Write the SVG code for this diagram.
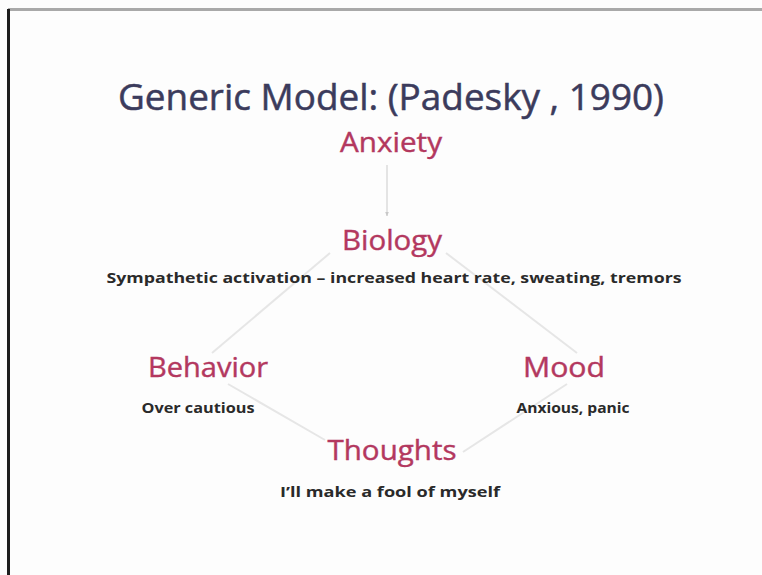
<svg xmlns="http://www.w3.org/2000/svg" width="762" height="575" viewBox="0 0 762 575">
  <style>
    .title { font-family: "Open Sans", "Liberation Sans", sans-serif; font-size: 36px; fill: #3b3b5c; stroke: #3b3b5c; stroke-width: 0.5; text-anchor: middle; }
    .head { font-family: "Open Sans", "Liberation Sans", sans-serif; font-size: 27px; fill: #b3385f; stroke: #b3385f; stroke-width: 0.4; text-anchor: middle; }
    .note { font-family: "Open Sans", "Liberation Sans", sans-serif; font-size: 14px; font-weight: bold; fill: #2a2a2a; text-anchor: middle; }
    .link { stroke: #e6e6e6; stroke-width: 2; fill: none; }
  </style>
  <defs>
    <marker id="tip" viewBox="0 0 10 10" refX="9" refY="5" markerWidth="4" markerHeight="4" orient="auto">
      <path d="M0,1 L10,5 L0,9 z" fill="#c8c8c8"/>
    </marker>
  </defs>

  <!-- page -->
  <rect x="0" y="0" width="762" height="575" fill="#fdfdfd"/>
  <rect x="8" y="8" width="754" height="3" fill="#a9a9a9"/>
  <rect x="7" y="9" width="3" height="566" fill="#1e1e1e"/>

  <!-- connectors -->
  <g id="connectors">
    <line x1="387" y1="165" x2="387" y2="216" stroke="#d4d4d4" stroke-width="1.2" marker-end="url(#tip)"/>
    <line class="link" x1="330" y1="253" x2="212" y2="353"/>
    <line class="link" x1="446" y1="253" x2="577" y2="353"/>
    <line class="link" x1="228" y1="384" x2="325" y2="440"/>
    <line class="link" x1="567" y1="384" x2="463" y2="452"/>
  </g>

  <text class="title" x="391" y="110" textLength="546" lengthAdjust="spacingAndGlyphs">Generic Model: (Padesky , 1990)</text>

  <g id="anxiety">
    <text class="head" x="391" y="152" textLength="102" lengthAdjust="spacingAndGlyphs">Anxiety</text>
  </g>

  <g id="biology">
    <text class="head" x="392" y="250" textLength="100" lengthAdjust="spacingAndGlyphs">Biology</text>
    <text class="note" x="394" y="283" textLength="575" lengthAdjust="spacingAndGlyphs">Sympathetic activation – increased heart rate, sweating, tremors</text>
  </g>

  <g id="behavior">
    <text class="head" x="208" y="377" textLength="120" lengthAdjust="spacingAndGlyphs">Behavior</text>
    <text class="note" x="198" y="413" textLength="113" lengthAdjust="spacingAndGlyphs">Over cautious</text>
  </g>

  <g id="mood">
    <text class="head" x="564" y="377" textLength="82" lengthAdjust="spacingAndGlyphs">Mood</text>
    <text class="note" x="573" y="413" textLength="113" lengthAdjust="spacingAndGlyphs">Anxious, panic</text>
  </g>

  <g id="thoughts">
    <text class="head" x="392" y="460" textLength="129" lengthAdjust="spacingAndGlyphs">Thoughts</text>
    <text class="note" x="390" y="497" textLength="220" lengthAdjust="spacingAndGlyphs">I’ll make a fool of myself</text>
  </g>
</svg>
